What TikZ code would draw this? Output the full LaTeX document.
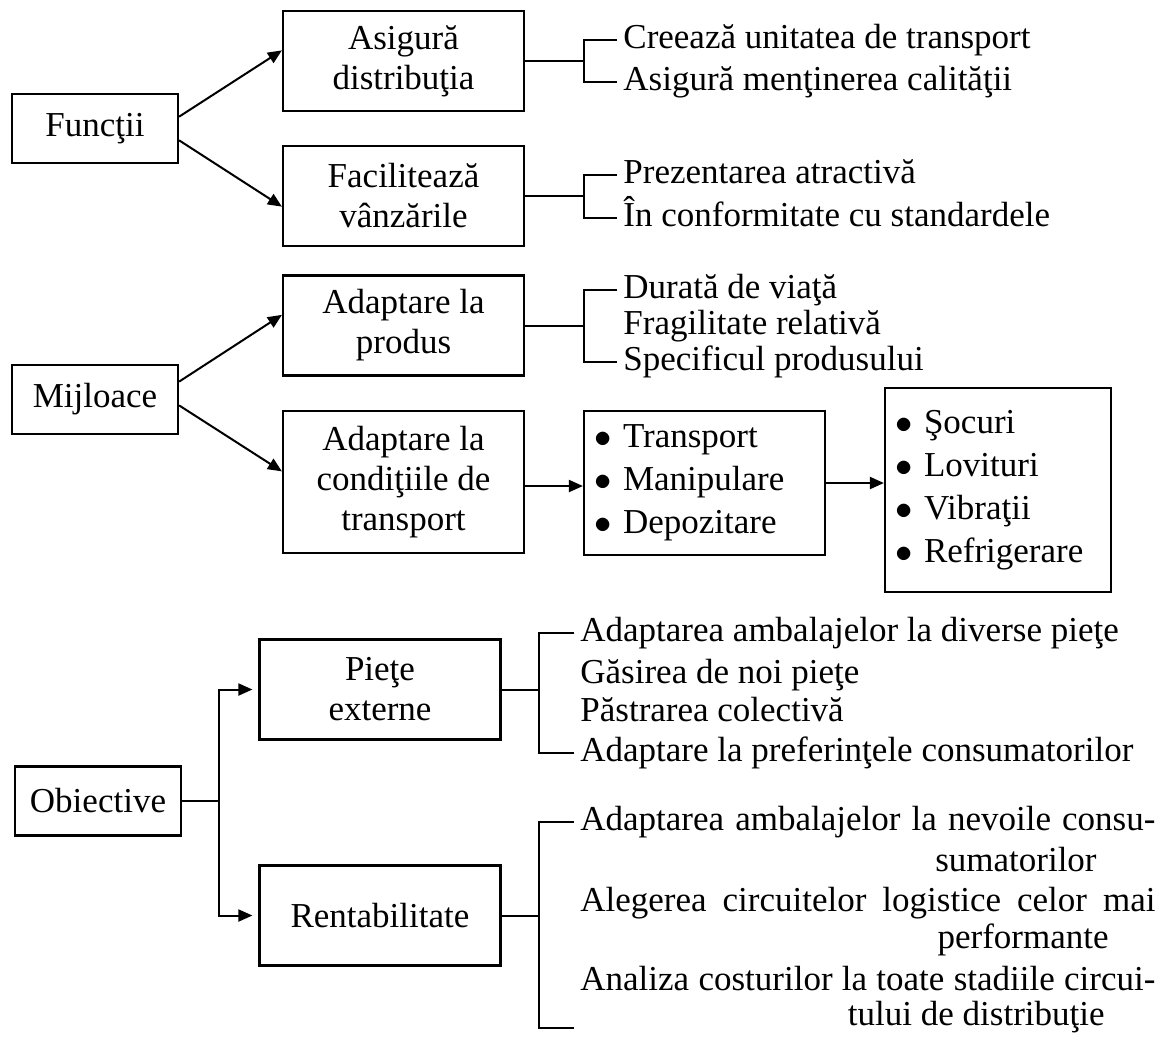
\documentclass[tikz,border=0pt]{standalone}
\usepackage{fontspec}
\setmainfont{Liberation Serif}
\usetikzlibrary{positioning}
\usetikzlibrary{arrows.meta}
\tikzset {
  % framed boxes of the tree
  box/.style = {draw, line width=1.1pt, align=center, inner sep=0pt,
    minimum width=120.5pt, minimum height=50pt},
  root/.style = {box, minimum width=83pt, minimum height=34.5pt},
  % boxes holding a bullet list
  lst/.style = {draw, line width=1.1pt, align=left, inner xsep=5pt, inner ysep=0pt,
    font=\fontsize{17.5pt}{21.5pt}\selectfont},
  % one line of text next to a bracket
  item/.style = {anchor=west, inner xsep=3pt, inner ysep=0pt,
    text height=12.5pt, text depth=4pt},
  link/.style = {line width=1pt},
  arr/.style = {link, -{Triangle[length=7pt, width=6pt]}},
}
\newcommand{\blt}{\makebox[14.5pt][l]{$\bullet$}}

\begin{document}
\begin{tikzpicture}[x=0.5pt, y=-0.5pt, font=\fontsize{17.5pt}{20pt}\selectfont]
        \useasboundingbox (0,0) rectangle (1166,1040);

        % Functii
        \node[root] (fun) at (95,128.5) {Funcţii};
        \node[box] (asig) at (403.5,61) {Asigură\\distribuţia};
        \node[box] (facil) at (403.5,196) {Facilitează\\vânzările};

        \draw [arr] (fun.8) -- (asig.175);
        \draw [arr] (fun.-8) -- (facil.185);

        \coordinate (b1) at (584,0);
        \node[item] (a1) at (617,40) {Creează unitatea de transport};
        \node[item] (a2) at (617,82) {Asigură menţinerea calităţii};
        \node[item] (f1) at (617,175) {Prezentarea atractivă};
        \node[item] (f2) at (617,218) {În conformitate cu standardele};

        \draw [link] (asig) -- (asig -| b1);
        \draw [link] (a1.west) -- (a1.west -| b1) -- (a2.west -| b1) -- (a2.west);
        \draw [link] (facil) -- (facil -| b1);
        \draw [link] (f1.west) -- (f1.west -| b1) -- (f2.west -| b1) -- (f2.west);

        % Mijloace
        \node[root] (mij) at (95,399.5) {Mijloace};
        \node[box] (prod) at (403.5,325.5) {Adaptare la\\produs};
        \node[box, minimum height=71pt] (cond) at (403.5,482) {Adaptare la\\condiţiile de\\transport};

        \draw [arr] (mij.12) -- (prod.175);
        \draw [arr] (mij.-4) -- (cond.175);

        \node[item] (p1) at (617,290) {Durată de viaţă};
        \node[item] (p2) at (617,326) {Fragilitate relativă};
        \node[item] (p3) at (617,362) {Specificul produsului};

        \draw [link] (prod) -- (prod -| b1);
        \draw [link] (p1.west) -- (p1.west -| b1) -- (p3.west -| b1) -- (p3.west);

        \node[lst, text width=110.5pt, minimum height=72pt] (lstA) at (704.5,483)
          {\blt Transport\\\blt Manipulare\\\blt Depozitare};
        \node[lst, text width=103pt, minimum height=102pt] (lstB) at (998,490)
          {\blt Şocuri\\\blt Lovituri\\\blt Vibraţii\\\blt Refrigerare};

        \draw [arr] ([yshift=-2pt]cond.east) -- ([yshift=-2pt]cond.east -| lstA.west);
        \draw [arr] (lstA.east) -- (lstA.east -| lstB.west);

        % Obiective
        \node[root] (obi) at (98,801) {Obiective};
        \node[box] (piete) at (380,689.5) {Pieţe\\externe};
        \node[box] (rent) at (380,915.5) {Rentabilitate};

        \coordinate (j) at (219,801);
        \draw [link] (obi.east) -- (j);
        \draw [arr, shorten >=3pt] (j) |- (piete.west);
        \draw [arr, shorten >=3pt] (j) |- (rent.west);

        \coordinate (b2) at (539,0);
        \node[item] (e1) at (574,633) {Adaptarea ambalajelor la diverse pieţe};
        \node[item] (e2) at (574,675) {Găsirea de noi pieţe};
        \node[item] (e3) at (574,713) {Păstrarea colectivă};
        \node[item] (e4) at (574,753) {Adaptare la preferinţele consumatorilor};

        \draw [link] (piete) -- (piete -| b2);
        \draw [link] (e1.west) -- (e1.west -| b2) -- (e4.west -| b2) -- (e4.west);

        \node[item] (r1) at (574,822) {\makebox[287.5pt][s]{Adaptarea ambalajelor la nevoile consu-}};
        \node[item, anchor=east] (r1b) at (1103,863) {sumatorilor};
        \node[item] (r2) at (574,903) {\makebox[287.5pt][s]{Alegerea circuitelor logistice celor mai}};
        \node[item, anchor=east] (r2b) at (1115,940) {performante};
        \node[item] (r3) at (574,982) {\makebox[287.5pt][s]{Analiza costurilor la toate stadiile circui-}};
        \node[item, anchor=east] (r3b) at (1111,1017) {tului de distribuţie};
        \coordinate (rend) at (574,1028);

        \draw [link] (rent) -- (rent -| b2);
        \draw [link] (r1.west) -- (r1.west -| b2) -- (rend -| b2) -- (rend);
      \end{tikzpicture}
\end{document}
